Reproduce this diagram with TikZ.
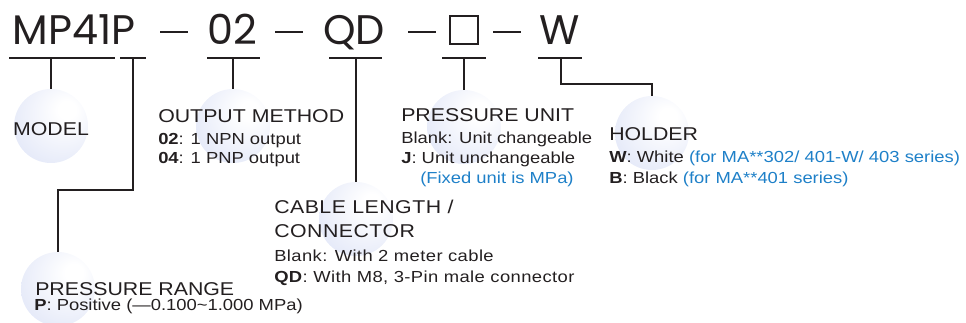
\documentclass[tikz,border=0pt]{standalone}
\usepackage{fontspec}
\setmainfont{Liberation Sans}[FakeStretch=1.15]
\newfontfamily\titlefont{Poppins}
\newfontfamily\spacedfont{Liberation Sans}[FakeStretch=1.15,LetterSpace=2.5]
\usepackage{xcolor}
\usepackage{tikz}
\definecolor{ink}{RGB}{35,31,32}
\definecolor{note}{RGB}{30,128,200}
\definecolor{bubblefill}{RGB}{208,216,243}
\pgfdeclareradialshading{bubbleshade}{\pgfpoint{12bp}{12bp}}{color(0bp)=(white); color(6bp)=(white); color(58bp)=(bubblefill); color(70bp)=(bubblefill)}

\begin{document}
\begin{tikzpicture}[x=0.75pt, y=-0.75pt,
    bubble/.style={shape=circle, minimum size=55.5pt, inner sep=0pt, outer sep=0pt, shading=bubbleshade, shade},
    codetext/.style={anchor=base, inner sep=0pt, text=ink, font=\titlefont\fontsize{31}{31}\selectfont},
    headtext/.style={anchor=base west, inner sep=0pt, text=ink, font=\fontsize{13.9}{14}\selectfont},
    itemtext/.style={anchor=base west, inner sep=0pt, text=ink, font=\fontsize{12}{12}\selectfont},
    link/.style={ink, line width=1pt},
    dashline/.style={ink, line width=1.6pt}]
    \useasboundingbox (0,0) rectangle (966,322);

    % bubbles behind the labels
    \node[bubble] (cModel) at (51,126) {};
    \node[bubble] (cOutput) at (233,126) {};
    \node[bubble] (cUnit) at (464,127) {};
    \node[bubble] (cHolder) at (652,133) {};
    \node[bubble] (cCable) at (356,219) {};
    \node[bubble] (cRange) at (58,289) {};

    % part number
    \node[codetext] (model) at (74,44) {MP41P};
    \node[codetext] (output) at (232,44) {02};
    \node[codetext] (cable) at (354,44) {QD};
    \node[codetext] (holder) at (560,44) {W};
    \node[draw=ink, line width=1.5pt, minimum size=21pt, inner sep=0pt] (unit) at (464,30) {};
    \foreach \a in {160,275,408,493}
      \draw[dashline] (\a,32) -- ++(28,0);

    % bars under the code
    \foreach \nm/\a/\t/\b in {model/9/51/115, range/120/133/146, output/207/233/260,
                              cable/329/356/382, unit/442/464/486, holder/538/561/582} {
      \coordinate (\nm L) at (\a,58);
      \coordinate (\nm T) at (\t,58);
      \coordinate (\nm R) at (\b,58);
      \draw[link] (\nm L) -- (\nm R);
    }
    \draw[link] (modelT) -- (cModel.north);
    \draw[link] (outputT) -- (cOutput.north);
    \draw[link] (cableT) -- (cCable.north);
    \draw[link] (unitT) -- (cUnit.north);
    \draw[link] (rangeT) -- ++(0,132) -| (cRange.north);
    \draw[link] (holderT) -- ++(0,26) -| (cHolder.north);

    % labels
    \node[headtext, anchor=base] (tModel) at (51,135) {MODEL};

    \node[headtext] (tOutput) at (158,122) {OUTPUT METHOD};
    \node[itemtext] (tOut02) at (158,144) {\textbf{02}: 1 NPN output};
    \node[itemtext] (tOut04) at (158,163) {\textbf{04}: 1 PNP output};

    \node[headtext] (tUnit) at (401,121) {PRESSURE UNIT};
    \node[itemtext] (tUnitB) at (401,143) {Blank: Unit changeable};
    \node[itemtext] (tUnitJ) at (401,163) {\textbf{J}: Unit unchangeable};
    \node[itemtext, text=note] (tUnitN) at (420,183) {(Fixed unit is MPa)};

    \node[headtext] (tHolder) at (609,140) {HOLDER};
    \node[itemtext] (tHolderW) at (609,162) {\textbf{W}: White \textcolor{note}{(for MA**302/ 401-W/ 403 series)}};
    \node[itemtext] (tHolderB) at (609,183) {\textbf{B}: Black \textcolor{note}{(for MA**401 series)}};

    \node[headtext, font=\spacedfont\fontsize{13.9}{14}\selectfont] (tCable) at (274,213) {CABLE LENGTH /};
    \node[headtext, font=\spacedfont\fontsize{13.9}{14}\selectfont] (tCable2) at (274,237) {CONNECTOR};
    \node[itemtext, font=\spacedfont\fontsize{12}{12}\selectfont] (tCableB) at (274,261) {Blank: With 2 meter cable};
    \node[itemtext, font=\spacedfont\fontsize{12}{12}\selectfont] (tCableQ) at (274,282) {\textbf{QD}: With M8, 3-Pin male connector};

    \node[headtext] (tRange) at (35,295) {PRESSURE RANGE};
    \node[itemtext] (tRangeP) at (34,310) {\textbf{P}: Positive (—0.100\textasciitilde 1.000 MPa)};
\end{tikzpicture}
\end{document}
